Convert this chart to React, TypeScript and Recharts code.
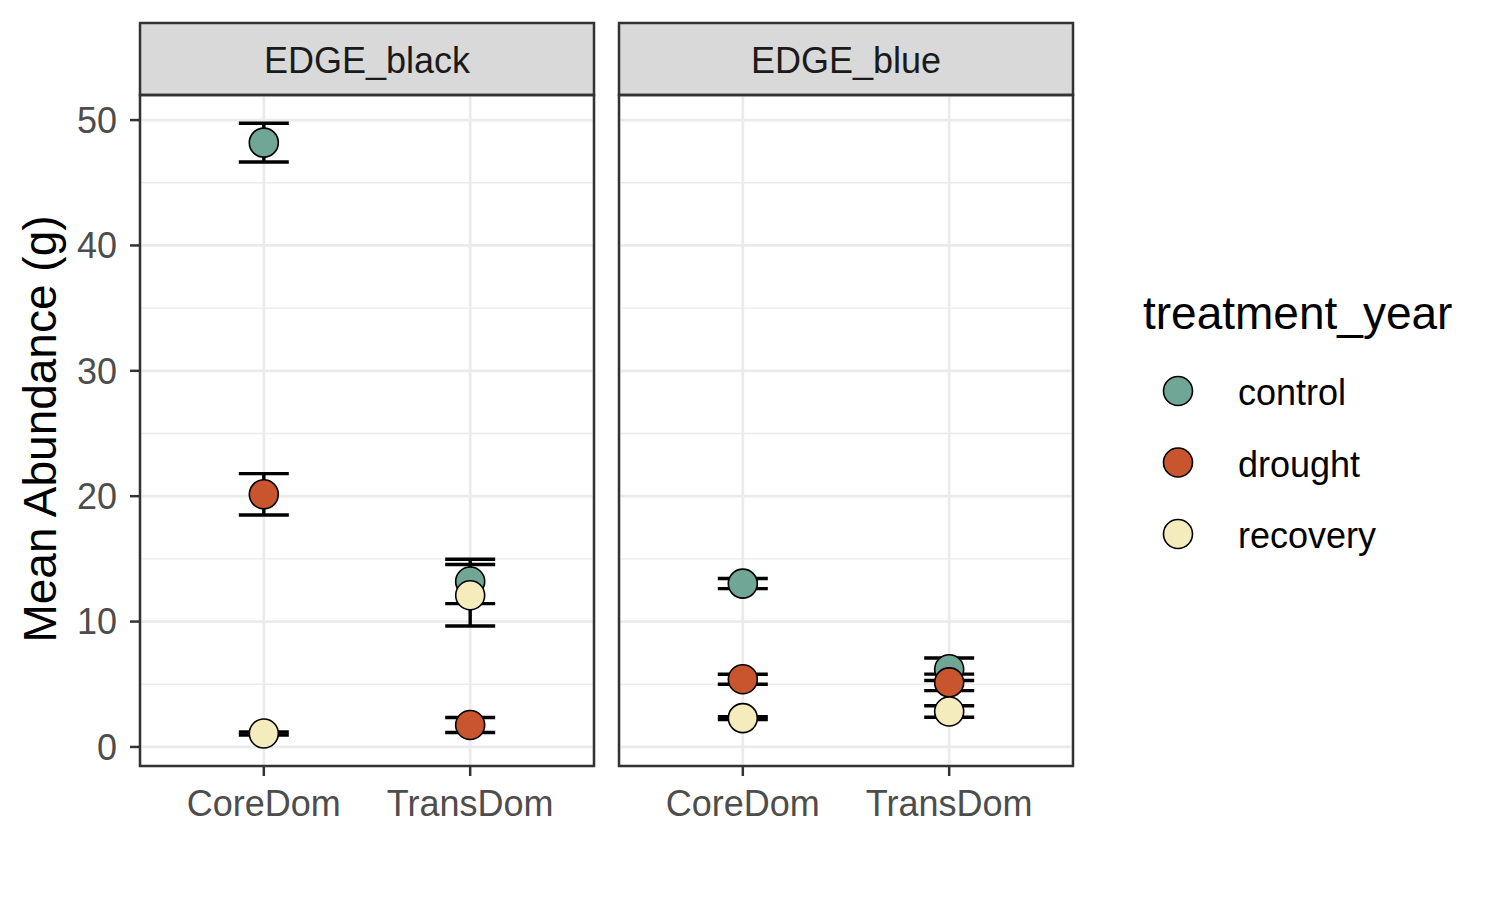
import { CartesianGrid, ErrorBar, ReferenceLine, Scatter, ScatterChart, XAxis, YAxis } from "recharts";

const categories = ["CoreDom", "TransDom"];
const treatments = ["control", "drought", "recovery"];
const facets = ["EDGE_black", "EDGE_blue"];

// means and standard errors, [CoreDom, TransDom]
const blackControl = [48.2, 13.2];
const blackControlSe = [1.55, 1.77];
const blackDrought = [20.15, 1.75];
const blackDroughtSe = [1.65, 0.6];
const blackRecovery = [1.07, 12.1];
const blackRecoverySe = [0.12, 2.45];

const blueControl = [13.03, 6.2];
const blueControlSe = [0.4, 0.9];
const blueDrought = [5.4, 5.15];
const blueDroughtSe = [0.4, 0.66];
const blueRecovery = [2.3, 2.83];
const blueRecoverySe = [0.11, 0.46];

const yTicks = [0, 10, 20, 30, 40, 50];
const yMinor = [5, 15, 25, 35, 45];

const COLORS: Record<string, string> = {
  control: "#6FA696",
  drought: "#C8552D",
  recovery: "#F5ECBE",
};

const FONT = '"Liberation Sans", Arial, sans-serif';
const Y_DOMAIN = [-1.52, 52];

function makeSeries(means: number[], ses: number[]) {
  return categories.map((_, i) => ({ x: i + 1, y: means[i], se: ses[i] }));
}

const panelData: Record<string, Record<string, ReturnType<typeof makeSeries>>> = {
  EDGE_black: {
    control: makeSeries(blackControl, blackControlSe),
    drought: makeSeries(blackDrought, blackDroughtSe),
    recovery: makeSeries(blackRecovery, blackRecoverySe),
  },
  EDGE_blue: {
    control: makeSeries(blueControl, blueControlSe),
    drought: makeSeries(blueDrought, blueDroughtSe),
    recovery: makeSeries(blueRecovery, blueRecoverySe),
  },
};

function Dot({ cx, cy, fill }: { cx?: number; cy?: number; fill?: string }) {
  if (cx == null || cy == null) return <g />;
  return <circle cx={cx} cy={cy} r={14.5} fill={fill} stroke="#000" strokeWidth={1.6} />;
}

function Panel({ facet, showY, width }: { facet: string; showY: boolean; width: number }) {
  const series = panelData[facet];
  return (
    <ScatterChart
      width={width}
      height={900}
      margin={{ top: 95, right: showY ? 6 : 0, bottom: 74, left: 0 }}
    >
      <CartesianGrid stroke="#EBEBEB" strokeWidth={2.7} />
      {yMinor.map((v) => (
        <ReferenceLine key={v} y={v} stroke="#EBEBEB" strokeWidth={1.4} />
      ))}
      <XAxis
        type="number"
        dataKey="x"
        domain={[0.4, 2.6]}
        ticks={[1, 2]}
        tickFormatter={(v: number) => categories[v - 1]}
        axisLine={false}
        tickLine={{ stroke: "#333", strokeWidth: 2.5 }}
        tickSize={10}
        tickMargin={14}
        height={60}
        tick={{ fill: "#4D4D4D", fontSize: 36, fontFamily: FONT }}
        allowDataOverflow
      />
      <YAxis
        type="number"
        dataKey="y"
        domain={Y_DOMAIN}
        ticks={yTicks}
        hide={!showY}
        width={140}
        axisLine={false}
        tickLine={{ stroke: "#333", strokeWidth: 2.5 }}
        tickSize={10}
        tickMargin={13}
        tick={{ fill: "#4D4D4D", fontSize: 36, fontFamily: FONT }}
        allowDataOverflow
      />
      {treatments.map((t) => (
        <Scatter
          key={"err-" + t}
          data={series[t]}
          shape={() => <g />}
          isAnimationActive={false}
          legendType="none"
        >
          <ErrorBar
            dataKey="se"
            direction="y"
            width={25}
            stroke="#000"
            strokeWidth={3.4}
            isAnimationActive={false}
          />
        </Scatter>
      ))}
      {treatments.map((t) => (
        <Scatter
          key={t}
          name={t}
          data={series[t]}
          fill={COLORS[t]}
          shape={(p: any) => <Dot cx={p.cx} cy={p.cy} fill={COLORS[t]} />}
          isAnimationActive={false}
        />
      ))}
    </ScatterChart>
  );
}

const panelLefts = [140, 619];
const PANEL_W = 454;

export default function App() {
  return (
    <div style={{ position: "absolute", left: 0, top: 0, width: 1500, height: 900, background: "#fff", fontFamily: FONT }}>
      <style>{".recharts-errorBar line { stroke-width: 3.4px; }"}</style>
      <div style={{ position: "absolute", left: 0, top: 0 }}>
        <Panel facet="EDGE_black" showY width={600} />
      </div>
      <div style={{ position: "absolute", left: 619, top: 0 }}>
        <Panel facet="EDGE_blue" showY={false} width={PANEL_W} />
      </div>
      <svg width={1500} height={900} style={{ position: "absolute", left: 0, top: 0, pointerEvents: "none" }}>
        {facets.map((f, i) => (
          <g key={f}>
            <rect x={panelLefts[i]} y={23} width={PANEL_W} height={72} fill="#D9D9D9" stroke="#333" strokeWidth={2.5} />
            <text x={panelLefts[i] + PANEL_W / 2} y={73} textAnchor="middle" fontSize={36} fill="#1A1A1A" fontFamily={FONT}>
              {f}
            </text>
            <rect x={panelLefts[i]} y={95} width={PANEL_W} height={671} fill="none" stroke="#333" strokeWidth={2.5} />
          </g>
        ))}
        <text transform="translate(56,429) rotate(-90)" textAnchor="middle" fontSize={46} fill="#000" fontFamily={FONT}>
          Mean Abundance (g)
        </text>
        <text x={1143} y={329} fontSize={46} fill="#000" fontFamily={FONT}>
          treatment_year
        </text>
        {treatments.map((t, i) => (
          <g key={t}>
            <circle cx={1178} cy={391 + i * 71.5} r={14.5} fill={COLORS[t]} stroke="#000" strokeWidth={1.6} />
            <text x={1238} y={405 + i * 71.5} fontSize={36} fill="#000" fontFamily={FONT}>
              {t}
            </text>
          </g>
        ))}
      </svg>
    </div>
  );
}
